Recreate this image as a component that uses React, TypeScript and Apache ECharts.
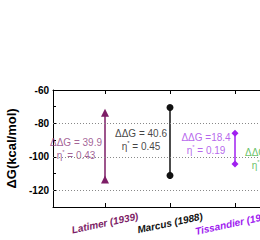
import React, { useEffect, useRef } from 'react';
import * as echarts from 'echarts';

const categories = ['Latimer (1939)', 'Marcus (1988)', 'Tissandier (1998)', 'Kelly (2006)'];
const catX = [1, 2, 3, 4];
const topValues = [-73.6, -70.5, -85.9, -96];
const bottomValues = [-113.5, -111.1, -104.3, -108];
const ddGText = ['ΔΔG = 39.9', 'ΔΔG = 40.6', 'ΔΔG =18.4', 'ΔΔG = 12.0'];
const etaText = ['0.43', '0.45', '0.19', '0.13'];
const labelY = [-95, -90, -92.3, -101.3];
const colors = ['#7d1d66', '#111111', '#a020f0', '#33b233'];
const textColors = ['#8c3a7c', '#111111', '#a43ee8', '#3fb23f'];
const symbols = ['triangle', 'circle', 'diamond', 'rect'];
const yTicks = [-60, -80, -100, -120];
const gridValues = [-80, -100, -120];

const FONT = '"Liberation Sans", Arial, sans-serif';

export default function App() {
  const ref = useRef<HTMLDivElement>(null);
  useEffect(() => {
    if (!ref.current) return;
    const chart = echarts.init(ref.current, undefined, { renderer: 'svg' });
    const rich: any = {};
    categories.forEach((_, i) => {
      rich['c' + i] = { color: colors[i], fontWeight: 'bold', fontStyle: 'italic', fontSize: 10, fontFamily: FONT };
    });
    const lineSeries = categories.map((c, i) => ({
      type: 'line',
      name: c,
      xAxisIndex: 0,
      clip: false,
      data: [[catX[i], topValues[i]], [catX[i], bottomValues[i]]],
      symbol: symbols[i],
      symbolSize: i === 0 ? 8 : 7,
      lineStyle: { color: colors[i], width: 1.5 },
      itemStyle: { color: colors[i] },
      markLine: i === 0 ? {
        silent: true,
        symbol: 'none',
        label: { show: false },
        lineStyle: { type: [1, 2], color: '#888', width: 1 },
        data: gridValues.map((v) => ({ yAxis: v })),
      } : undefined,
      z: 3,
    }));
    const annSeries = categories.map((c, i) => ({
      type: 'scatter',
      xAxisIndex: 0,
      clip: false,
      data: [[catX[i], labelY[i]]],
      symbolSize: 0.1,
      itemStyle: { color: 'transparent' },
      label: {
        show: true,
        position: 'inside',
        align: 'center',
        verticalAlign: 'middle',
        offset: [-29, 0],
        formatter: `{a|${ddGText[i]}}\n{a|η}{s|*}{a| = ${etaText[i]}}`,
        rich: {
          a: { color: textColors[i], fontSize: 10, fontFamily: FONT, lineHeight: 13 },
          s: { color: textColors[i], fontSize: 6, fontFamily: FONT, verticalAlign: 'top', lineHeight: 13 },
        },
      },
      z: 4,
    }));
    const xMin = 0.2;
    const xMax = 0.2 + 207 / 65;
    chart.setOption({
      animation: false,
      grid: { left: 53, top: 90, right: 0, height: 117, containLabel: false, outerBoundsMode: 'none' },
      xAxis: [
        {
          type: 'value', min: xMin, max: xMax, position: 'bottom',
          axisLine: { show: true, onZero: false, lineStyle: { color: '#000', width: 1 } },
          axisTick: { show: true, inside: true, length: 4, customValues: catX, lineStyle: { color: '#000' } },
          axisLabel: {
            customValues: catX, rotate: 12, align: 'center', verticalAlign: 'middle', margin: 16,
            hideOverlap: false, showMinLabel: true, showMaxLabel: true,
            formatter: (v: number) => {
              const i = catX.indexOf(v);
              return i >= 0 ? `{c${i}|${categories[i]}}` : '';
            },
            rich,
          },
          splitLine: { show: false },
        },
        {
          type: 'value', min: xMin, max: xMax, position: 'top',
          axisLine: { show: true, onZero: false, lineStyle: { color: '#000', width: 1 } },
          axisTick: { show: true, inside: true, length: 4, customValues: catX, lineStyle: { color: '#000' } },
          axisLabel: { show: false },
          splitLine: { show: false },
        },
      ],
      yAxis: {
        type: 'value', min: -130, max: -60, interval: 10,
        name: 'ΔG(kcal/mol)', nameLocation: 'middle', nameGap: 33, nameRotate: 90,
        nameTextStyle: { fontSize: 13, fontWeight: 'bold', fontFamily: FONT, color: '#000' },
        axisLine: { show: true, lineStyle: { color: '#000', width: 1 } },
        axisTick: { show: true, inside: true, length: 3, lineStyle: { color: '#000' } },
        axisLabel: {
          fontSize: 10, fontWeight: 'bold', fontFamily: FONT, color: '#000', margin: 4,
          formatter: (v: number) => (yTicks.includes(v) ? String(v) : ''),
        },
        splitLine: { show: false },
      },
      series: [...lineSeries, ...annSeries],
    } as any);
    return () => chart.dispose();
  }, []);
  return <div ref={ref} style={{ position: 'fixed', left: 0, top: 0, width: 260, height: 240, background: '#fff' }} />;
}
